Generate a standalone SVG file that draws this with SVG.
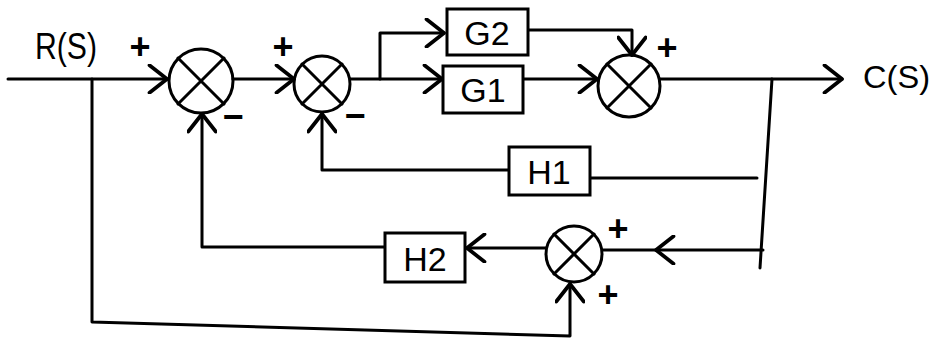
<svg xmlns="http://www.w3.org/2000/svg" width="931" height="339" viewBox="0 0 931 339">
<defs>
<style>
.ln{fill:none;stroke:#000;stroke-width:3;stroke-linecap:round;stroke-linejoin:round}
.bx{fill:#fff;stroke:#000;stroke-width:3}
.t{font-family:"Liberation Sans",Arial,sans-serif;fill:#000}
.bt{font-size:34px;text-anchor:middle}
.sg{font-size:36px;text-anchor:middle;font-weight:bold}
</style>
<marker id="ah" markerUnits="userSpaceOnUse" markerWidth="30" markerHeight="30" viewBox="-16 -12 20 24" refX="0" refY="0" orient="auto">
<path d="M-14,-11 L0,0 L-14,11" fill="none" stroke="#000" stroke-width="3" stroke-linecap="round" stroke-linejoin="round"/>
</marker>
</defs>
<rect width="931" height="339" fill="#fff"/>
<g id="connectors" class="ln">
<path d="M8,79 H167" marker-end="url(#ah)"/>
<path d="M92,79 V322 L570,336 V284" marker-end="url(#ah)"/>
<path d="M233,79 H294" marker-end="url(#ah)"/>
<path d="M350,79 H442" marker-end="url(#ah)"/>
<path d="M380,79 V33 H444" marker-end="url(#ah)"/>
<path d="M523,79 H597" marker-end="url(#ah)"/>
<path d="M528,30 H632 V55" marker-end="url(#ah)"/>
<path d="M660,79 H842" marker-end="url(#ah)"/>
<path d="M772,79 L760,268"/>
<path d="M757,178 H590"/>
<path d="M508,170 H322 V114" marker-end="url(#ah)"/>
<path d="M763,250 H656" marker-end="url(#ah)"/>
<path d="M656,250 H603"/>
<path d="M546,248 H467" marker-end="url(#ah)"/>
<path d="M385,247 H202 V114" marker-end="url(#ah)"/>
</g>
<g id="sum1" class="ln"><circle cx="201" cy="81" r="32"/><path d="M178,58 L224,104 M224,58 L178,104"/></g>
<g id="sum2" class="ln"><circle cx="322" cy="84" r="28"/><path d="M302,64 L342,104 M342,64 L302,104"/></g>
<g id="sum3" class="ln"><circle cx="629" cy="86" r="31"/><path d="M607,64 L651,108 M651,64 L607,108"/></g>
<g id="sum4" class="ln"><circle cx="574" cy="254" r="28"/><path d="M554,234 L594,274 M594,234 L554,274"/></g>
<g id="G2"><rect class="bx" x="447" y="9" width="81" height="46"/><text class="t bt" x="487" y="45">G2</text></g>
<g id="G1"><rect class="bx" x="443" y="66" width="80" height="47"/><text class="t bt" x="483" y="102">G1</text></g>
<g id="H1"><rect class="bx" x="509" y="147" width="81" height="48"/><text class="t bt" x="549" y="184">H1</text></g>
<g id="H2"><rect class="bx" x="385" y="233" width="80" height="49"/><text class="t bt" x="425" y="271">H2</text></g>
<g id="labels">
<text class="t" x="35" y="59" font-size="36" textLength="62" lengthAdjust="spacingAndGlyphs">R(S)</text>
<text class="t" x="863" y="88" font-size="32" textLength="67" lengthAdjust="spacingAndGlyphs">C(S)</text>
<text class="t sg" x="140" y="59">+</text>
<text class="t sg" x="283" y="59">+</text>
<text class="t sg" x="233" y="129">−</text>
<text class="t sg" x="355" y="128">−</text>
<text class="t sg" x="667" y="60">+</text>
<text class="t sg" x="618" y="241">+</text>
<text class="t sg" x="608" y="307">+</text>
</g>
</svg>
